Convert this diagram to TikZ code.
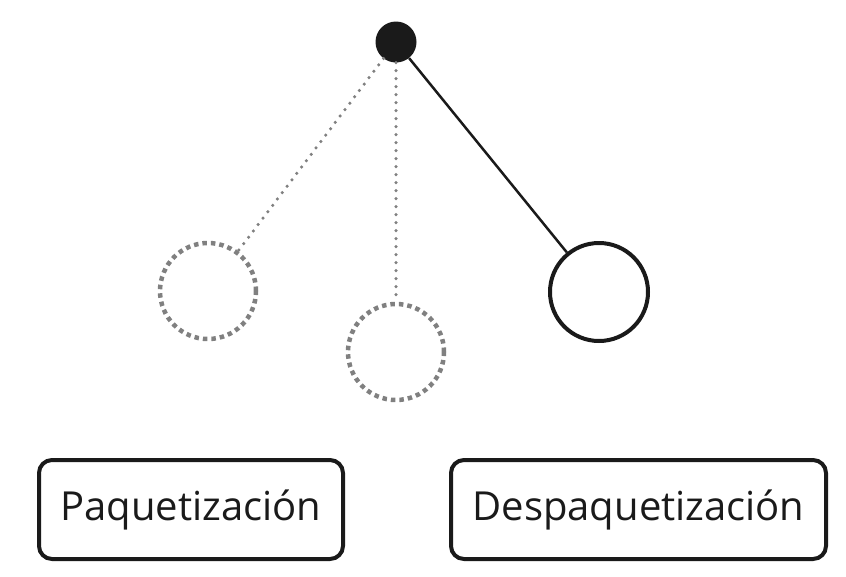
\documentclass[tikz,border=0pt]{standalone}
\usepackage{fontspec}
\setmainfont{Open Sans}
\usetikzlibrary{positioning}
\definecolor{dotgray}{HTML}{808080}
\definecolor{ink}{HTML}{1A1A1A}
\tikzset{x=1pt, y=-1pt,
root/.style={circle, fill=ink, minimum size=41pt, inner sep=0pt},
ghost/.style={circle, draw=dotgray, line width=4.5pt, dash pattern=on 4.5pt off 4pt, minimum size=96pt, inner sep=0pt},
child/.style={circle, draw=ink, line width=4pt, minimum size=98pt, inner sep=0pt},
stage/.style={draw=ink, line width=4pt, rounded corners=13pt, minimum height=99pt, font=\fontsize{40}{48}\selectfont, text=ink},
hint/.style={draw=dotgray, line width=3.5pt, dash pattern=on 0pt off 8pt, line cap=round},
}

\begin{document}
\begin{tikzpicture}
    \useasboundingbox (0,0) rectangle (846,576);
    \node[root] (top) at (396,42) {};
    \node[ghost] (left) at (208,291) {};
    \node[ghost] (mid) at (396,352) {};
    \node[child] (right) at (599,292) {};

    \node[stage, minimum width=304pt] (pack) at (191,509.5) {Paquetización};
    \node[stage, minimum width=375pt] (unpack) at (638.5,509.5) {Despaquetización};

    \draw[hint] (top) -- (left);
    \draw[hint] (top) -- (mid);
    \draw[ink, line width=2.5pt] (top) -- (right);
\end{tikzpicture}
\end{document}
